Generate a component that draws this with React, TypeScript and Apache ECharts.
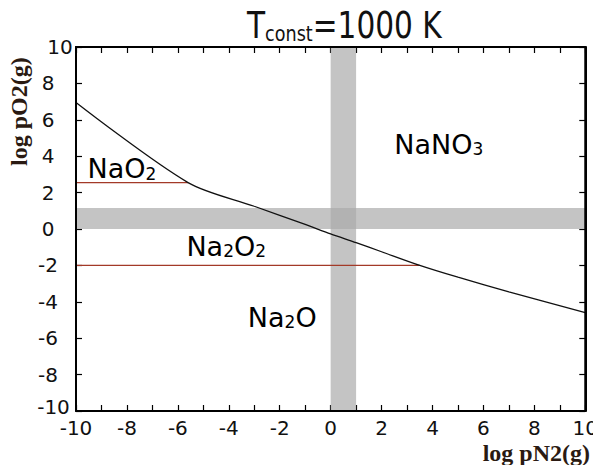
import { useEffect, useRef } from 'react';
import * as echarts from 'echarts';

// ---- data ----
const xRange = [-10, 10];
const yRange = [-10, 10];
const curveX = [-10, -5.6, -3, -1, 0, 1, 2, 3.5, 5, 7, 10];
const curveY = [6.95, 2.55, 1.25, 0.25, -0.27, -0.75, -1.25, -2.0, -2.65, -3.45, -4.6];
const naO2BoundaryX = [-10, -5.6];
const naO2BoundaryY = [2.55, 2.55];
const na2OBoundaryX = [-10, 3.5];
const na2OBoundaryY = [-2, -2];
const bandX = [0, 1];
const bandY = [0, 1.15];
const phaseNames = ['NaO2', 'Na2O2', 'NaNO3', 'Na2O'];
const phaseRich = ['{n|NaO}{s|2}', '{n|Na}{s|2}{n|O}{s|2}', '{n|NaNO}{s|3}', '{n|Na}{s|2}{n|O}'];
const phaseX = [-8.2, -4.1, 4.25, -1.9];
const phaseY = [3.3, -0.95, 4.65, -4.85];
const frameX = [-10, -10, 10, 10, -10];
const frameY = [-10, 10, 10, -10, -10];

const FONT = 'DejaVu Sans';
const SERIF = 'Liberation Serif';

export default function App() {
  const ref = useRef<HTMLDivElement>(null);
  useEffect(() => {
    if (!ref.current) return;
    const chart = echarts.init(ref.current, null, { renderer: 'svg' });
    const tickStyle = { show: true, inside: true, length: 6, lineStyle: { color: '#000', width: 1.2 } };
    const lineStyle = { show: true, onZero: false, lineStyle: { color: '#000', width: 2 } };
    chart.setOption({
      animation: false,
      backgroundColor: '#fff',
      grid: { left: 76, right: 12, top: 47, bottom: 62, containLabel: false },
      xAxis: [
        {
          type: 'value',
          min: xRange[0],
          max: xRange[1],
          interval: 2,
          position: 'bottom',
          splitLine: { show: false },
          axisLine: lineStyle,
          axisTick: tickStyle,
          minorTick: { show: true, splitNumber: 2, length: 6, lineStyle: { color: '#000', width: 1.2 } },
          axisLabel: { show: true, color: '#111', fontFamily: FONT, fontSize: 20, margin: 7 },
        },
        {
          type: 'value',
          min: xRange[0],
          max: xRange[1],
          interval: 2,
          position: 'top',
          splitLine: { show: false },
          axisLine: lineStyle,
          axisTick: tickStyle,
          minorTick: { show: true, splitNumber: 2, length: 6, lineStyle: { color: '#000', width: 1.2 } },
          axisLabel: { show: false },
        },
      ],
      yAxis: [
        {
          type: 'value',
          min: yRange[0],
          max: yRange[1],
          interval: 2,
          position: 'left',
          splitLine: { show: false },
          axisLine: lineStyle,
          axisTick: tickStyle,
          axisLabel: {
            show: true,
            color: '#111',
            fontFamily: FONT,
            fontSize: 20,
            margin: 28,
            align: 'center',
            formatter: (v: number) => (v === 10 ? '{w|10}' : v === -10 ? '{m|-10}' : String(v)),
            rich: {
              w: { fontFamily: FONT, fontSize: 20, color: '#111', padding: [0, 0, 0, 24] },
              m: { fontFamily: FONT, fontSize: 20, color: '#111', padding: [0, 0, 8, 11] },
            },
          },
        },
        {
          type: 'value',
          min: yRange[0],
          max: yRange[1],
          interval: 2,
          position: 'right',
          splitLine: { show: false },
          axisLine: lineStyle,
          axisTick: tickStyle,
          axisLabel: { show: false },
        },
      ],
      graphic: [
        {
          type: 'text',
          x: 247,
          y: 5,
          scaleX: 0.8,
          style: {
            text: '{a|T}{b|const}{a|=1000 K}',
            rich: {
              a: { fontFamily: FONT, fontSize: 37, lineHeight: 40, fill: '#111' },
              b: { fontFamily: FONT, fontSize: 22, lineHeight: 30, fill: '#111', verticalAlign: 'bottom' },
            },
          },
        },
        {
          type: 'text',
          right: 11,
          top: 441,
          style: { text: 'log pN2(g)', font: `bold 24px "${SERIF}"`, fill: '#2a1a12' },
        },
        {
          type: 'text',
          x: 7,
          y: 166,
          rotation: Math.PI / 2,
          style: { text: 'log pO2(g)', font: `bold 24px "${SERIF}"`, fill: '#2a1a12', textVerticalAlign: 'top' },
        },
      ],
      series: [
        {
          type: 'line',
          data: [],
          silent: true,
          markArea: {
            silent: true,
            itemStyle: { color: 'rgba(171,171,171,0.7)' },
            data: [
              [{ xAxis: bandX[0] }, { xAxis: bandX[1] }],
              [{ yAxis: bandY[0] }, { yAxis: bandY[1] }],
            ],
          },
        },
        {
          type: 'line',
          data: naO2BoundaryX.map((x, i) => [x, naO2BoundaryY[i]]),
          symbol: 'none',
          lineStyle: { color: '#a33a28', width: 1.3 },
        },
        {
          type: 'line',
          data: na2OBoundaryX.map((x, i) => [x, na2OBoundaryY[i]]),
          symbol: 'none',
          lineStyle: { color: '#a33a28', width: 1.3 },
        },
        {
          type: 'line',
          data: curveX.map((x, i) => [x, curveY[i]]),
          symbol: 'none',
          smooth: 0.3,
          lineStyle: { color: '#111', width: 1.3 },
        },
        {
          type: 'line',
          name: 'frame',
          clip: false,
          silent: true,
          z: 10,
          data: frameX.map((x, i) => [x, frameY[i]]),
          symbol: 'none',
          lineStyle: { color: '#000', width: 2 },
        },
        {
          type: 'scatter',
          symbolSize: 0,
          itemStyle: { opacity: 1 },
          data: phaseNames.map((n, i) => ({ name: n, value: [phaseX[i], phaseY[i]] })),
          label: {
            show: true,
            position: 'inside',
            opacity: 1,
            formatter: (p: any) => phaseRich[p.dataIndex],
            rich: {
              n: { fontFamily: FONT, fontSize: 27, lineHeight: 27, color: '#000' },
              s: { fontFamily: FONT, fontSize: 17, lineHeight: 22, color: '#000', verticalAlign: 'bottom' },
            },
          },
        },
      ],
    });
    return () => chart.dispose();
  }, []);
  return <div ref={ref} style={{ width: 601, height: 473, margin: -8 }} />;
}
